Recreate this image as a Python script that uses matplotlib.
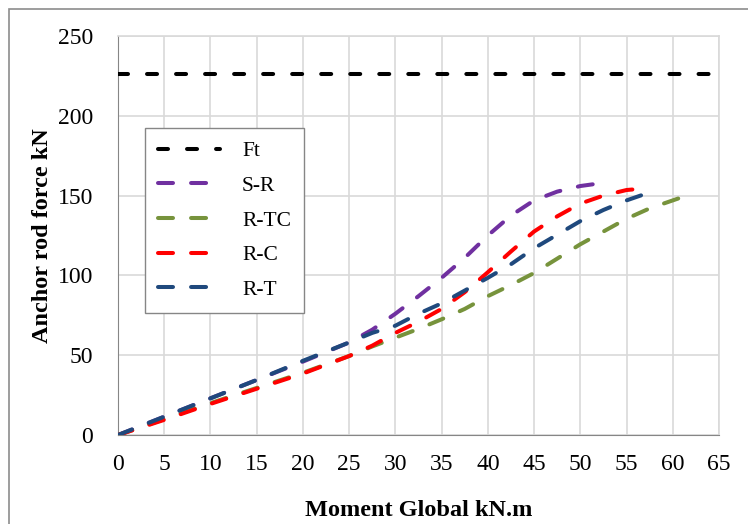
import matplotlib
matplotlib.use("Agg")
import matplotlib.pyplot as plt
import matplotlib.patches as mpatches

plt.rcParams['font.family'] = ['Liberation Serif', 'DejaVu Serif']
plt.rcParams['lines.scale_dashes'] = False

# anchor rod capacity
ft_value = 226

sr_x = [0, 5, 10, 15, 20, 25, 27.5, 30, 32.5, 35, 37.5, 40, 42.5, 45, 47.5, 50, 52.5]
sr_y = [0, 11.5, 23, 34.5, 46, 58, 66, 76, 87, 98.5, 111, 125, 137.5, 147, 152.5, 156, 158]

rtc_x = [0, 5, 10, 15, 20, 25, 27.5, 30, 32.5, 35, 37.5, 40, 42.5, 45, 47.5, 50, 52.5, 55, 57.5, 60, 62]
rtc_y = [0, 10, 20, 29.5, 39, 49.5, 55.5, 61, 66.5, 72.5, 79, 87, 94, 101.5, 110.5, 119.5, 127.5, 135.5, 142, 147, 151]

rc_x = [0, 5, 10, 15, 20, 25, 27.5, 30, 32.5, 35, 37.5, 40, 42.5, 45, 47.5, 50, 52.5, 55, 56]
rc_y = [0, 9.5, 19.5, 29, 38.5, 49.5, 56, 64, 71, 79, 89.5, 102, 115, 127.5, 137, 145, 150, 153.5, 154]

rt_x = [0, 5, 10, 15, 20, 25, 27.5, 30, 32.5, 35, 37.5, 40, 42.5, 45, 47.5, 50, 52.5, 55, 57]
rt_y = [0, 11.5, 23, 34.5, 46.5, 58, 64, 68.5, 76, 82.5, 90.5, 98.5, 107, 117, 125.5, 134, 141, 147, 151]

fig = plt.figure(figsize=(7.48, 5.24), dpi=100)
ax = fig.add_axes([0.1578, 0.1698, 0.8034, 0.7615])

# outer chart frame
fig.patches.append(mpatches.Rectangle((9 / 748, -0.1), 1.2, 0.1 + (524 - 9) / 524,
                                      transform=fig.transFigure, fill=False,
                                      edgecolor="#8c8c8c", lw=1.2))

lw = 2.9
ax.plot([0, 65], [ft_value, ft_value], color="black", lw=lw, dashes=(7.2, 13.7),
        dash_capstyle="round", label="Ft", zorder=3)
ax.plot(sr_x, sr_y, color="#7030A0", lw=lw, dashes=(10.8, 13), dash_capstyle="round",
        label="S-R", zorder=3)
ax.plot(rtc_x, rtc_y, color="#77933C", lw=lw, dashes=(10.8, 13), dash_capstyle="round",
        label="R-TC", zorder=3)
ax.plot(rc_x, rc_y, color="#FF0000", lw=lw, dashes=(10.8, 13), dash_capstyle="round",
        label="R-C", zorder=3)
ax.plot(rt_x, rt_y, color="#1F497D", lw=lw, dashes=(10.8, 13), dash_capstyle="round",
        label="R-T", zorder=3)

ax.set_xlim(0, 65)
ax.set_ylim(0, 250)
ax.set_xticks(range(0, 66, 5))
ax.set_yticks(range(0, 251, 50))
ax.grid(color="#D9D9D9", lw=1.2, zorder=0)
ax.tick_params(length=0, labelsize=17)
ax.tick_params(axis="x", pad=14)
ax.tick_params(axis="y", pad=18)
for side in ["top", "right"]:
    ax.spines[side].set_color("#D9D9D9")
    ax.spines[side].set_linewidth(1.2)
ax.spines["left"].set_color("#868686")
ax.spines["bottom"].set_color("#868686")

ax.set_xlabel("Moment Global kN.m", fontsize=17.5, fontweight="bold", labelpad=18)
ax.set_ylabel("Anchor rod force kN", fontsize=17.5, fontweight="bold", labelpad=3)

leg = ax.legend(loc="upper left", bbox_to_anchor=(0.045, 0.769), fontsize=15.5,
                handlelength=2.9, handletextpad=1.0, labelspacing=0.68,
                borderpad=0.6, borderaxespad=0, fancybox=False, framealpha=1,
                edgecolor="#868686")
leg.get_frame().set_linewidth(1.0)

fig.savefig("out.png", dpi=100)
